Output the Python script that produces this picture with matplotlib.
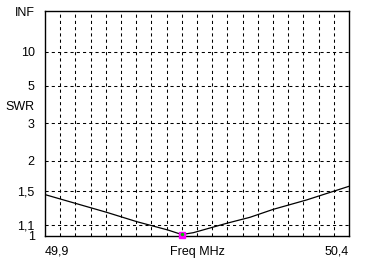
import numpy as np
import matplotlib
matplotlib.use("Agg")
import matplotlib.pyplot as plt

# Data (SWR vs frequency)
freq_mhz = [49.90, 49.9465, 50.0015, 50.051, 50.102, 50.125, 50.144, 50.199, 50.237, 50.2755, 50.330, 50.40]
swr = [1.451, 1.347, 1.235, 1.136, 1.055, 1.013, 1.030, 1.120, 1.181, 1.269, 1.381, 1.567]
min_freq = 50.125
min_swr = 1.013

y_ticks = [1.0, 1.1, 1.5, 2, 3, 5, 10, 1e12]
y_tick_labels = ["1", "1,1", "1,5", "2", "3", "5", "10", "INF"]
x_min, x_max = 49.9, 50.4
x_labels = ["49,9", "Freq MHz", "50,4"]

plt.rcParams['font.family'] = ['Liberation Sans', 'DejaVu Sans']

def fwd(s):
    s = np.asarray(s, dtype=float)
    return (s - 1.0) / (s + 1.0)

def inv(g):
    g = np.clip(np.asarray(g, dtype=float), -0.999999, 1 - 1e-13)
    return (1.0 + g) / (1.0 - g)

fig = plt.figure(figsize=(3.66, 2.70), dpi=100)
ax = fig.add_axes([45/366, 1 - 236/270, 304/366, 225/270])
ax.set_yscale('function', functions=(fwd, inv))
ax.set_xlim(x_min, x_max)
ax.set_ylim(1.0, 1e12)

# grid
for v in y_ticks[1:-1]:
    ax.axhline(v, color='black', lw=0.75, linestyle=(0, (3, 3)), zorder=1)
for xv in np.linspace(x_min, x_max, 21)[1:-1]:
    ax.axvline(xv, color='black', lw=0.75, linestyle=(0, (3, 3)), zorder=1)

ax.plot(freq_mhz, swr, color='black', lw=0.9, zorder=3)
ax.plot([min_freq], [min_swr], marker='s', ms=4.2, color='#ff00ff', mec='#ff00ff', zorder=4, clip_on=False)
ax.plot([min_freq], [min_swr + 0.006], marker='.', ms=3, color='#00c000', zorder=5, clip_on=False)

ax.set_yticks(y_ticks)
ax.set_yticklabels(y_tick_labels, fontsize=9)
ax.yaxis.set_minor_locator(matplotlib.ticker.NullLocator())
ax.tick_params(axis='y', length=0, pad=7.5)
ax.set_xticks([])
for sp in ax.spines.values():
    sp.set_linewidth(1.0)
    sp.set_color('black')

fig.text(5/366, 1 - 107/270, "SWR", fontsize=9, ha='left', va='center')
fig.text(45/366, 1 - 252/270, x_labels[0], fontsize=9, ha='left', va='center')
fig.text(197.5/366, 1 - 252/270, x_labels[1], fontsize=9, ha='center', va='center')
fig.text(349/366, 1 - 252/270, x_labels[2], fontsize=9, ha='right', va='center')

fig.savefig("out.png", dpi=100, facecolor='white')
